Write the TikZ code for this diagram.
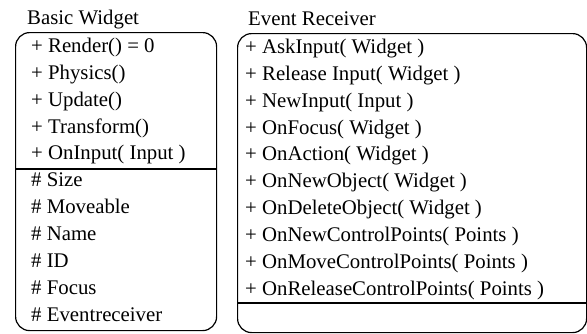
\documentclass[tikz,border=0pt]{standalone}
\usepackage{fontspec}
\setmainfont{Liberation Serif}
\newfontfamily\tnr{Liberation Serif}
\begin{document}
\begin{tikzpicture}[x=1pt,y=-1pt,
  box/.style={draw,line width=1.2pt,rounded corners=14pt,anchor=north west,inner sep=0pt},
  lbl/.style={anchor=base west,inner sep=0pt,font=\tnr\fontsize{20.8}{24}\selectfont},
  divider/.style={line width=1.2pt}]
\useasboundingbox (0,0) rectangle (587,333);
% Basic Widget
\node[lbl] (t1) at (27,24) {Basic Widget};
\node[box,minimum width=201pt,minimum height=298pt] (bw) at (15,32) {};
\coordinate (d1) at (15,169);
\draw[divider] (d1 -| bw.west) -- (d1 -| bw.east);
\foreach \t [count=\i from 0] in {+ Render() = 0,+ Physics(),+ Update(),+ Transform(),+ OnInput( Input ),\# Size,\# Moveable,\# Name,\# ID,\# Focus,\# Eventreceiver}
  \node[lbl] (bw\i) at (31,52.3+26.9*\i) {\t};
% Event Receiver
\node[lbl] (t2) at (248,25) {Event Receiver};
\node[box,minimum width=349pt,minimum height=299pt] (er) at (237,33) {};
\coordinate (d2) at (237,303);
\draw[divider] (d2 -| er.west) -- (d2 -| er.east);
\foreach \t [count=\i from 0] in {+ AskInput( Widget ),+ Release Input( Widget ),+ NewInput( Input ),+ OnFocus( Widget ),+ OnAction( Widget ),+ OnNewObject( Widget ),+ OnDeleteObject( Widget ),+ OnNewControlPoints( Points ),+ OnMoveControlPoints( Points ),+ OnReleaseControlPoints( Points )}
  \node[lbl] (er\i) at (245,53.3+26.9*\i) {\t};
\end{tikzpicture}
\end{document}
